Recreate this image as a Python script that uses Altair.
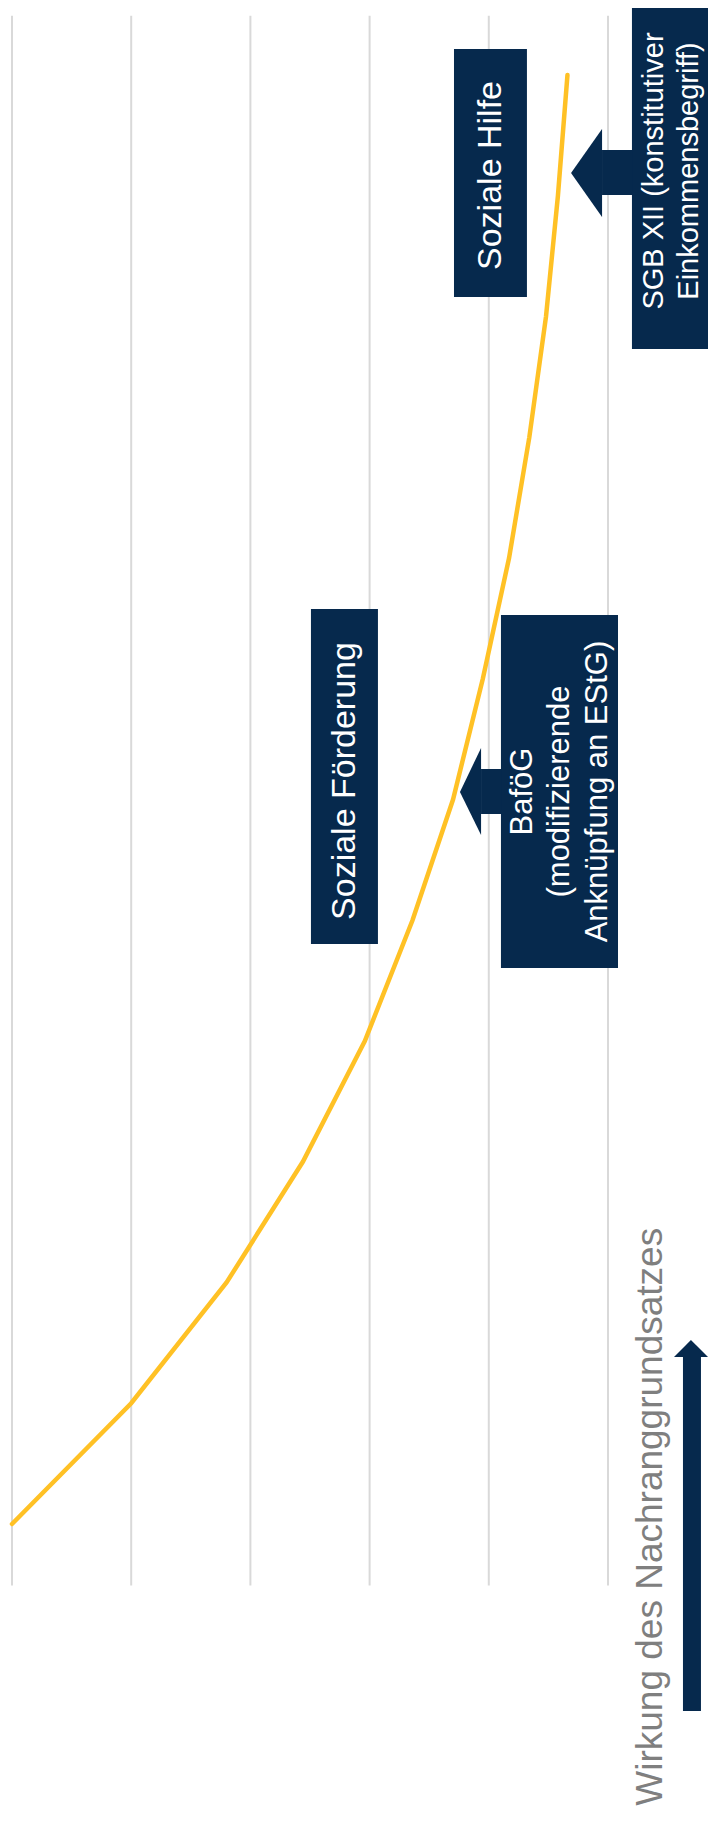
import altair as alt
import pandas as pd

# ---- data (rotated chart: x = Wirkung value, y = step index) ----
steps = list(range(13))
wirkung = [50, 40, 32, 25.6, 20.4, 16.4, 13.0, 10.5, 8.3, 6.6, 5.2, 4.2, 3.4]
grid_values = [0, 10, 20, 30, 40, 50]
grid_lo = -0.51
grid_hi = 12.49

# label boxes and arrow shafts (value / step units)
box_x1 = [12.92, 24.92, 8.98, -2.01, 0.50, 10.65, -6.29]
box_x2 = [6.80, 19.30, -0.84, -8.60, -2.05, 8.95, -7.80]
box_y1 = [12.215, 7.578, 7.528, 12.70, 11.379, 6.253, 1.383]
box_y2 = [10.161, 4.803, 4.605, 9.731, 11.006, 5.880, -1.549]

# white box texts (anchor = first line)
label_texts = ["Soziale Hilfe", "Soziale Förderung", "BaföG\n(modifizierende\nAnknüpfung an EStG)"]
label_x = [9.82, 22.1, 7.17]
label_y = [11.168, 6.153, 6.066]
label_size = [34, 34, 31]

sgb_text = "SGB XII (konstitutiver\nEinkommensbegriff)"
sgb_x = [-3.86]
sgb_y = [11.205]

# left-pointing arrow heads: tip and base
head_id = ["sgb", "sgb", "bafoeg", "bafoeg"]
head_x = [3.10, 0.50, 12.42, 10.65]
head_y1 = [11.188, 11.553, 6.062, 6.427]
head_y2 = [11.188, 10.824, 6.062, 5.706]

# upward arrow head
up_y = [1.524, 1.383]
up_x1 = [-6.96, -5.54]
up_x2 = [-6.96, -8.39]

title_text = "Wirkung des Nachranggrundsatzes"
title_x = [-3.61]
title_y = [0.06]

NAVY = "#06294D"
GOLD = "#FFC125"
FONT = "Liberation Sans"

xs = alt.Scale(domain=[-8.39, 50.336], reverse=True, nice=False, zero=False)
ys = alt.Scale(domain=[-2.385, 12.555], nice=False, zero=False)

line_df = pd.DataFrame({"step": steps, "wirkung": wirkung})
grid_df = pd.DataFrame({"g": grid_values, "lo": grid_lo, "hi": grid_hi})
box_df = pd.DataFrame({"x1": box_x1, "x2": box_x2, "y1": box_y1, "y2": box_y2})
lab_df = pd.DataFrame({"t": label_texts, "x": label_x, "y": label_y, "s": label_size})
sgb_df = pd.DataFrame({"t": [sgb_text], "x": sgb_x, "y": sgb_y})
head_df = pd.DataFrame({"id": head_id, "x": head_x, "y1": head_y1, "y2": head_y2})
up_df = pd.DataFrame({"y": up_y, "x1": up_x1, "x2": up_x2})
title_df = pd.DataFrame({"t": [title_text], "x": title_x, "y": title_y})

grid = alt.Chart(grid_df).mark_rule(color="#D9D9D9", strokeWidth=2).encode(
    x=alt.X("g:Q", scale=xs, axis=None),
    y=alt.Y("lo:Q", scale=ys, axis=None),
    y2="hi:Q",
)

line = alt.Chart(line_df).mark_line(color=GOLD, strokeWidth=4.5, strokeCap="round").encode(
    x=alt.X("wirkung:Q", scale=xs, axis=None),
    y=alt.Y("step:Q", scale=ys, axis=None),
    order="step:Q",
)

boxes = alt.Chart(box_df).mark_rect(color=NAVY).encode(
    x=alt.X("x1:Q", scale=xs, axis=None),
    x2="x2:Q",
    y=alt.Y("y1:Q", scale=ys, axis=None),
    y2="y2:Q",
)

heads = alt.Chart(head_df).mark_area(color=NAVY, orient="vertical", opacity=1).encode(
    x=alt.X("x:Q", scale=xs, axis=None),
    y=alt.Y("y1:Q", scale=ys, axis=None),
    y2="y2:Q",
    detail="id:N",
)

up_head = alt.Chart(up_df).mark_area(color=NAVY, orient="horizontal", opacity=1).encode(
    y=alt.Y("y:Q", scale=ys, axis=None),
    x=alt.X("x1:Q", scale=xs, axis=None),
    x2="x2:Q",
)

labels = alt.Chart(lab_df).mark_text(
    angle=270, font=FONT, color="white", align="center", baseline="middle",
    lineBreak="\n", lineHeight=37.5,
).encode(
    x=alt.X("x:Q", scale=xs, axis=None),
    y=alt.Y("y:Q", scale=ys, axis=None),
    text="t:N",
    size=alt.Size("s:Q", scale=None, legend=None),
)

sgb = alt.Chart(sgb_df).mark_text(
    angle=270, font=FONT, color="white", align="center", baseline="middle",
    lineBreak="\n", lineHeight=35, fontSize=29,
).encode(
    x=alt.X("x:Q", scale=xs, axis=None),
    y=alt.Y("y:Q", scale=ys, axis=None),
    text="t:N",
)

title = alt.Chart(title_df).mark_text(
    angle=270, font=FONT, color="#7F7F7F", align="center", baseline="middle", fontSize=37,
).encode(
    x=alt.X("x:Q", scale=xs, axis=None),
    y=alt.Y("y:Q", scale=ys, axis=None),
    text="t:N",
)

chart = alt.layer(grid, line, boxes, heads, up_head, labels, sgb, title).properties(
    width=700, height=1804, padding=0, autosize=alt.AutoSizeParams(type="none"),
).configure_view(stroke=None)

chart.save("out.html", embed_options={"renderer": "svg", "actions": False})
